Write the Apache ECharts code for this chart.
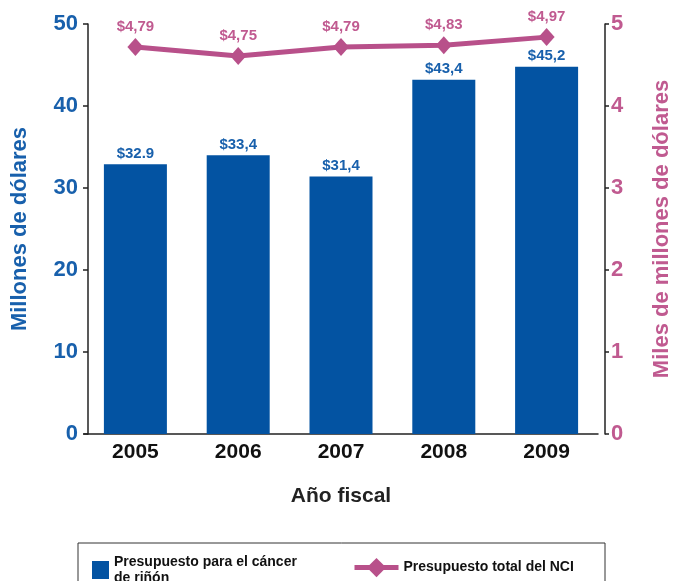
<!DOCTYPE html>
<html>
<head>
<meta charset="utf-8">
<script src="https://cdn.jsdelivr.net/npm/echarts@6/dist/echarts.min.js"></script>
<style>
html,body{margin:0;padding:0;background:#fff;}
#chart{width:681px;height:581px;}
</style>
</head>
<body>
<div id="chart"></div>
<script>
var years = ['2005', '2006', '2007', '2008', '2009'];
var kidneyBudget = [32.9, 34.0, 31.4, 43.2, 44.8];
var kidneyLabels = ['$32.9', '$33,4', '$31,4', '$43,4', '$45,2'];
var nciBudget = [4.72, 4.61, 4.72, 4.74, 4.84];
var nciLabels = ['$4,79', '$4,75', '$4,79', '$4,83', '$4,97'];
var leftTicks = [0, 10, 20, 30, 40, 50];
var rightTicks = [0, 1, 2, 3, 4, 5];

var FONT = "'Liberation Sans', Arial, sans-serif";
var BLUE = '#0353A2';
var BLUE_TXT = '#1860AC';
var PINK = '#B8508A';
var PINK_TXT = '#C05A90';
var BAR_NAME = 'Presupuesto para el cáncer\nde riñón';
var LINE_NAME = 'Presupuesto total del NCI';

var chart = echarts.init(document.getElementById('chart'));
chart.setOption({
  animation: false,
  textStyle: {fontFamily: FONT},
  grid: {left: 84, right: 81, top: 24, bottom: 147},
  graphic: [{
    type: 'rect',
    shape: {x: 78, y: 543, width: 527, height: 60},
    style: {fill: 'none', stroke: '#333', lineWidth: 1}
  }],
  legend: [{
    left: 87, top: 549,
    itemWidth: 17, itemHeight: 18,
    textStyle: {fontFamily: FONT, fontWeight: 'bold', fontSize: 14, color: '#111', lineHeight: 16},
    data: [{name: BAR_NAME, icon: 'rect', itemStyle: {color: BLUE}}]
  }, {
    left: 347, top: 553,
    itemWidth: 44, itemHeight: 24,
    textStyle: {fontFamily: FONT, fontWeight: 'bold', fontSize: 14, color: '#111'},
    data: [{name: LINE_NAME, lineStyle: {width: 5, color: PINK}, itemStyle: {color: PINK}}]
  }],
  xAxis: {
    type: 'category',
    data: years,
    axisLine: {lineStyle: {color: '#222', width: 1.5}},
    axisTick: {show: false},
    axisLabel: {color: '#111', fontWeight: 'bold', fontSize: 21, margin: 8, fontFamily: FONT},
    name: 'Año fiscal',
    nameLocation: 'middle',
    nameGap: 52,
    nameTextStyle: {color: '#222', fontWeight: 'bold', fontSize: 21, fontFamily: FONT}
  },
  yAxis: [{
    type: 'value',
    min: leftTicks[0], max: leftTicks[leftTicks.length - 1], interval: 10,
    offset: -4,
    axisLine: {show: true, lineStyle: {color: '#222', width: 1.5}},
    axisTick: {show: true, length: 5, lineStyle: {color: '#222', width: 1.5}},
    splitLine: {show: false},
    axisLabel: {color: BLUE_TXT, fontWeight: 'bold', fontSize: 22, margin: 10, fontFamily: FONT},
    name: 'Millones de dólares',
    nameLocation: 'middle',
    nameRotate: 90,
    nameGap: 57,
    nameTextStyle: {color: BLUE_TXT, fontWeight: 'bold', fontSize: 22, fontFamily: FONT}
  }, {
    type: 'value',
    position: 'right',
    min: rightTicks[0], max: rightTicks[rightTicks.length - 1], interval: 1,
    offset: 7,
    axisLine: {show: true, lineStyle: {color: '#222', width: 1.5}},
    axisTick: {show: true, length: 4, lineStyle: {color: '#222', width: 1.5}},
    splitLine: {show: false},
    axisLabel: {color: PINK_TXT, fontWeight: 'bold', fontSize: 22, margin: 6, fontFamily: FONT},
    name: 'Miles de millones de dólares',
    nameLocation: 'middle',
    nameRotate: 90,
    nameGap: 46,
    nameTextStyle: {color: PINK_TXT, fontWeight: 'bold', fontSize: 22, fontFamily: FONT}
  }],
  series: [{
    name: BAR_NAME,
    type: 'bar',
    yAxisIndex: 0,
    data: kidneyBudget,
    barWidth: 63,
    itemStyle: {color: BLUE},
    label: {
      show: true, position: 'top', distance: 3,
      color: BLUE_TXT, fontWeight: 'bold', fontSize: 15, fontFamily: FONT,
      formatter: function (p) { return kidneyLabels[p.dataIndex]; }
    }
  }, {
    name: LINE_NAME,
    type: 'line',
    yAxisIndex: 1,
    data: nciBudget,
    symbol: 'diamond',
    symbolSize: [16, 18],
    lineStyle: {color: PINK, width: 5},
    itemStyle: {color: PINK},
    label: {
      show: true, position: 'top', distance: 4,
      color: PINK_TXT, fontWeight: 'bold', fontSize: 15, fontFamily: FONT,
      formatter: function (p) { return nciLabels[p.dataIndex]; }
    }
  }]
});
</script>
</body>
</html>
